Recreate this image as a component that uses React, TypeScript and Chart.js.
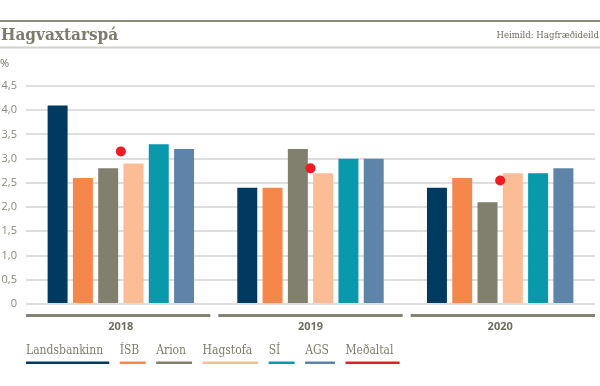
import React, { useEffect, useRef } from 'react';
import { Chart, registerables } from 'chart.js';

Chart.register(...registerables);

const title = 'Hagvaxtarspá';
const source = 'Heimild: Hagfræðideild';
const unitLabel = '%';

const categories = ['2018', '2019', '2020'];

const landsbankinn = [4.1, 2.4, 2.4];
const isb = [2.6, 2.4, 2.6];
const arion = [2.8, 3.2, 2.1];
const hagstofa = [2.9, 2.7, 2.7];
const si = [3.3, 3.0, 2.7];
const ags = [3.2, 3.0, 2.8];
const medaltal = [3.15, 2.8, 2.55];

const barNames = ['Landsbankinn', 'ÍSB', 'Arion', 'Hagstofa', 'SÍ', 'AGS'];
const barValues = [landsbankinn, isb, arion, hagstofa, si, ags];
const barColors = ['#003a60', '#f5874a', '#817f6d', '#fbbc96', '#0899ad', '#5e84a9'];
const avgName = 'Meðaltal';
const avgColor = '#ed1c24';

const yTickLabels = ['0', '0,5', '1,0', '1,5', '2,0', '2,5', '3,0', '3,5', '4,0', '4,5'];

const SLAB = "'DejaVu Serif Condensed', 'DejaVu Serif', serif";
const SANS = "'Open Sans', 'Noto Sans', sans-serif";

const decorPlugin = {
  id: 'decor',
  afterDraw(chart: any) {
    const ctx = chart.ctx as CanvasRenderingContext2D;
    const { left, right } = chart.chartArea;
    const W = chart.width;
    ctx.save();
    // header rules
    ctx.fillStyle = '#8c8a7b';
    ctx.fillRect(0, 20, W, 2);
    ctx.fillStyle = '#d1d0ca';
    ctx.fillRect(0, 46.5, W, 2);
    // title
    ctx.textAlign = 'left';
    ctx.textBaseline = 'alphabetic';
    ctx.fillStyle = '#7d7b6a';
    ctx.font = `bold 17px ${SLAB}`;
    ctx.fillText(title, 1, 40);
    // source
    ctx.fillStyle = '#6f6d60';
    ctx.font = `9.5px ${SLAB}`;
    ctx.textAlign = 'right';
    ctx.fillText(source, W - 1, 38);
    // unit
    ctx.textAlign = 'left';
    ctx.font = `11px ${SANS}`;
    ctx.fillStyle = '#6f6d60';
    ctx.fillText(unitLabel, 0, 67);
    // group segments under x axis
    const n = categories.length;
    const gap = 8;
    const segW = (right - left - gap * (n - 1)) / n;
    ctx.fillStyle = '#858373';
    for (let i = 0; i < n; i++) {
      ctx.fillRect(left + i * (segW + gap), 314, segW, 3);
    }
    // legend
    ctx.font = `12px ${SLAB}`;
    let x = left;
    chart.data.datasets.forEach((ds: any) => {
      const tw = ctx.measureText(ds.label).width;
      const w = Math.max(tw + 6, 26);
      ctx.fillStyle = '#7f7d6c';
      ctx.fillText(ds.label, x, 354);
      ctx.fillStyle = ds.legendColor;
      ctx.fillRect(x, 361.5, w, 2.5);
      x += w + 10.5;
    });
    ctx.restore();
  },
};

export default function App() {
  const ref = useRef<HTMLCanvasElement | null>(null);

  useEffect(() => {
    if (!ref.current) return;
    const datasets: any[] = barNames.map((name, i) => ({
      type: 'bar',
      label: name,
      data: barValues[i],
      backgroundColor: barColors[i],
      legendColor: barColors[i],
      borderWidth: 0,
      categoryPercentage: 0.8,
      barPercentage: 0.79,
      order: 1,
    }));
    datasets.push({
      type: 'line',
      label: avgName,
      data: medaltal,
      showLine: false,
      pointRadius: 5,
      pointHoverRadius: 5,
      pointBackgroundColor: avgColor,
      pointBorderWidth: 0,
      borderColor: avgColor,
      backgroundColor: avgColor,
      legendColor: avgColor,
      order: 0,
    });

    const chart = new Chart(ref.current, {
      type: 'bar',
      data: { labels: categories, datasets },
      plugins: [decorPlugin],
      options: {
        animation: false,
        responsive: false,
        layout: { padding: { top: 86, left: 0, right: 0, bottom: 0 } },
        plugins: {
          legend: { display: false },
          tooltip: { enabled: false },
          title: { display: false },
        },
        scales: {
          x: {
            grid: { display: false, drawTicks: false },
            border: { display: false },
            ticks: {
              padding: 16,
              color: '#6f6d5f',
              font: { family: SANS, size: 11, weight: 'bold' },
              maxRotation: 0,
            },
            afterFit: (s: any) => {
              s.height = 82;
            },
          },
          y: {
            min: 0,
            max: 4.5,
            grid: { color: '#dedede', lineWidth: 2, drawTicks: false },
            border: { display: false },
            ticks: {
              stepSize: 0.5,
              padding: 9,
              color: '#8b897b',
              font: { family: SANS, size: 11 },
              callback: (_v: any, i: number) => yTickLabels[i],
            },
            afterFit: (s: any) => {
              s.width = 26;
            },
          },
        },
      } as any,
    });
    return () => chart.destroy();
  }, []);

  return (
    <div style={{ position: 'absolute', left: 0, top: 0, width: 600, height: 386, background: '#fff' }}>
      <canvas ref={ref} width={600} height={386} style={{ display: 'block' }} />
    </div>
  );
}
